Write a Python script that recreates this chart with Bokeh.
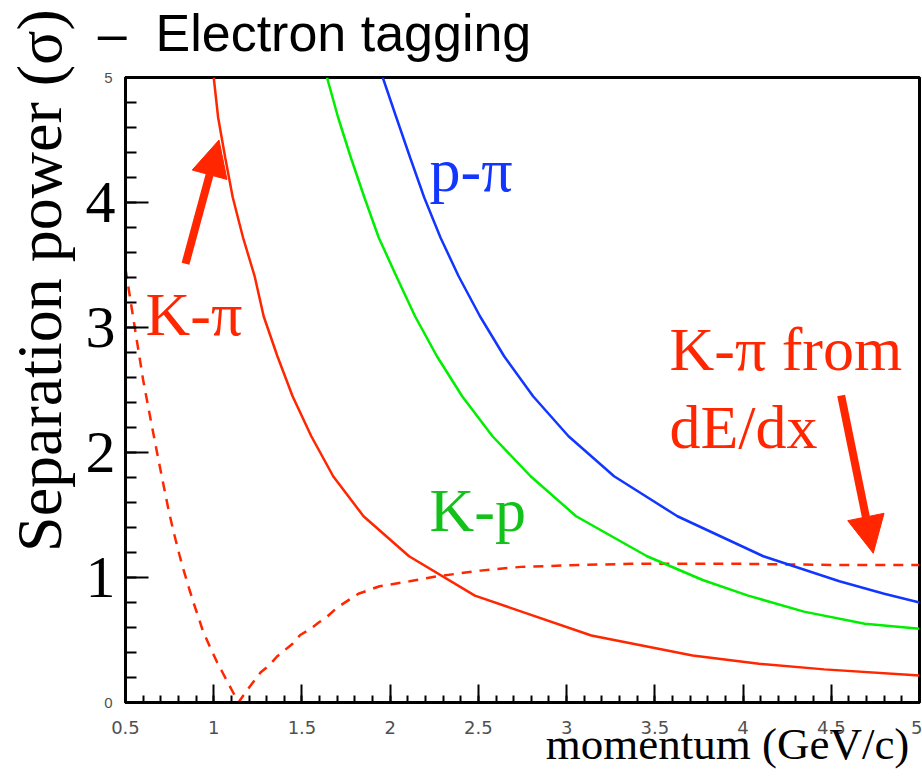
from bokeh.plotting import figure
from bokeh.models import (ColumnDataSource, Range1d, FixedTicker, Label, Arrow, NormalHead,
                          LinearAxis)
from bokeh.embed import file_html
from bokeh.resources import INLINE

# ---------------- data ----------------
# K-pi separation from time of flight (solid red)
kpi_tof_p = [1.00, 1.025, 1.065, 1.108, 1.166, 1.232, 1.283, 1.361, 1.447, 1.553,
             1.677, 1.849, 2.107, 2.48, 3.14, 3.714, 4.09, 4.46, 5.00]
kpi_tof_sep = [5.00, 4.68, 4.36, 4.04, 3.72, 3.41, 3.09, 2.77, 2.45, 2.13,
               1.81, 1.49, 1.17, 0.855, 0.536, 0.376, 0.31, 0.265, 0.216]

# K-p separation (green)
kp_p = [1.642, 1.705, 1.777, 1.854, 1.935, 2.035, 2.141, 2.265, 2.408, 2.58,
        2.796, 3.054, 3.456, 3.771, 4.029, 4.345, 4.69, 5.00]
kp_sep = [5.00, 4.68, 4.36, 4.04, 3.72, 3.41, 3.09, 2.77, 2.45, 2.13,
          1.81, 1.49, 1.17, 0.98, 0.855, 0.727, 0.63, 0.59]

# p-pi separation (blue)
ppi_p = [1.958, 2.035, 2.113, 2.193, 2.285, 2.388, 2.509, 2.646, 2.81, 3.011,
         3.269, 3.628, 4.115, 4.546, 4.80, 5.00]
ppi_sep = [5.00, 4.68, 4.36, 4.04, 3.72, 3.41, 3.09, 2.77, 2.45, 2.13,
           1.81, 1.49, 1.17, 0.97, 0.87, 0.80]

# K-pi separation from dE/dx (dashed red)
kpi_dedx_p = [0.50, 0.557, 0.60, 0.643, 0.687, 0.744, 0.77, 0.806, 0.823, 0.863,
              0.89, 0.914, 0.937, 0.98, 1.02, 1.05, 1.08, 1.11, 1.14, 1.19,
              1.265, 1.316, 1.36, 1.395, 1.447, 1.49, 1.549, 1.595, 1.645, 1.70,
              1.82, 1.94, 2.11, 2.27, 2.51, 2.74, 3.08, 3.37, 3.94, 4.52, 5.00]
kpi_dedx_sep = [3.47, 2.96, 2.58, 2.26, 1.94, 1.54, 1.38, 1.18, 1.09, 0.90,
                0.78, 0.68, 0.58, 0.44, 0.32, 0.24, 0.16, 0.08, 0.00, 0.10,
                0.24, 0.30, 0.37, 0.41, 0.47, 0.54, 0.59, 0.64, 0.69, 0.76,
                0.87, 0.93, 0.97, 1.01, 1.055, 1.085, 1.10, 1.11, 1.11, 1.10, 1.10]

x_major_ticks = [0.5, 1.0, 1.5, 2.0, 2.5, 3.0, 3.5, 4.0, 4.5, 5.0]
x_tick_labels = ["0.5", "1", "1.5", "2", "2.5", "3", "3.5", "4", "4.5", "5"]
y_major_ticks = [0, 1, 2, 3, 4, 5]
y_small_labels = {0: "0", 1: "", 2: "", 3: "", 4: "", 5: "5"}
y_big_ticks = [1, 2, 3, 4]
y_big_labels = ["1", "2", "3", "4"]

TITLE_TEXT = "–\u00a0\u00a0Electron tagging"
XLABEL_TEXT = "momentum (GeV/c)"
YLABEL_TEXT = "Separation power (σ)"

# ---------------- styling ----------------
RED = "#ff2600"
GREEN = "#00ee00"
GREEN_TXT = "#12c21a"
BLUE = "#1236ff"
SERIF = "Liberation Serif"
SANS = "Liberation Sans"

W, H = 922, 783
FL, FT, FR, FB = 125, 77, 919, 702  # frame edges in page pixels
PX_PER_X = (FR - FL) / 4.5
PX_PER_Y = (FB - FT) / 5.0

p = figure(width=W, height=H, output_backend="svg", toolbar_location=None,
           x_range=Range1d(0.5, 5.0), y_range=Range1d(0.0, 5.0),
           min_border_left=FL, min_border_right=W - FR,
           min_border_top=FT, min_border_bottom=H - FB)
p.background_fill_color = "white"
p.border_fill_color = "white"
p.grid.visible = False
p.outline_line_color = "black"
p.outline_line_width = 3

x_minor = [round(0.5 + 0.1 * i, 2) for i in range(46)]
y_minor = [round(0.2 * i, 2) for i in range(26)]
p.xaxis.ticker = FixedTicker(ticks=x_major_ticks, minor_ticks=x_minor)
p.yaxis.ticker = FixedTicker(ticks=y_major_ticks, minor_ticks=y_minor)
p.xaxis.major_label_overrides = {t: l for t, l in zip(x_major_ticks, x_tick_labels)}
p.yaxis.major_label_overrides = y_small_labels

for ax in (p.xaxis[0], p.yaxis[0]):
    ax.axis_line_width = 3
    ax.axis_line_color = "black"
    ax.major_tick_out = 0
    ax.minor_tick_out = 0
    ax.major_tick_line_width = 2
    ax.minor_tick_line_width = 2
p.xaxis.major_tick_in = 18
p.xaxis.minor_tick_in = 7
p.yaxis.major_tick_in = 23
p.yaxis.minor_tick_in = 11

p.xaxis.major_label_text_font = "DejaVu Sans"
p.xaxis.major_label_text_font_size = "18px"
p.xaxis.major_label_text_color = "#505050"
p.xaxis.major_label_standoff = 18
p.yaxis.major_label_text_font = SANS
p.yaxis.major_label_text_font_size = "15px"
p.yaxis.major_label_text_color = "#505050"
p.yaxis.major_label_standoff = 13


def text_axis(ticks, labels, font, size, standoff, orientation="horizontal"):
    """An axis that only carries text labels (no line, no ticks)."""
    ax = LinearAxis(ticker=FixedTicker(ticks=ticks, minor_ticks=[]),
                    major_label_overrides={t: l for t, l in zip(ticks, labels)})
    ax.axis_line_color = None
    ax.major_tick_line_color = None
    ax.minor_tick_line_color = None
    ax.major_tick_in = 0
    ax.major_tick_out = 0
    ax.minor_tick_in = 0
    ax.minor_tick_out = 0
    ax.major_label_text_font = font
    ax.major_label_text_font_size = size
    ax.major_label_text_color = "black"
    ax.major_label_standoff = standoff
    ax.major_label_orientation = orientation
    return ax


# big serif y tick numbers
p.add_layout(text_axis(y_big_ticks, y_big_labels, SERIF, "60px", -14), "left")
# y-axis title (rotated), centred at page y = 280
ylab_pos = round((FB - 280) / PX_PER_Y, 3)
p.add_layout(text_axis([ylab_pos], [YLABEL_TEXT], SERIF, "64px", 8, "vertical"), "left")
# plot title above the frame, centred at page x = 314
title_pos = round(0.5 + (314 - FL) / PX_PER_X, 3)
title_axis = text_axis([title_pos], [TITLE_TEXT], SANS, "52px", 16)
title_axis.major_label_text_line_height = 0.8
p.add_layout(title_axis, "above")
# x-axis title, centred at page x = 727
xlab_pos = round(0.5 + (727 - FL) / PX_PER_X, 3)
p.add_layout(text_axis([xlab_pos], [XLABEL_TEXT], SERIF, "45px", -18), "below")

# ---------------- curves ----------------
src_kpi = ColumnDataSource(dict(x=kpi_tof_p, y=kpi_tof_sep))
src_kp = ColumnDataSource(dict(x=kp_p, y=kp_sep))
src_ppi = ColumnDataSource(dict(x=ppi_p, y=ppi_sep))
src_dedx = ColumnDataSource(dict(x=kpi_dedx_p, y=kpi_dedx_sep))

p.line("x", "y", source=src_dedx, line_color=RED, line_width=2.5, line_dash="10 8")
p.line("x", "y", source=src_kpi, line_color=RED, line_width=2.5)
p.line("x", "y", source=src_kp, line_color=GREEN, line_width=2.5)
p.line("x", "y", source=src_ppi, line_color=BLUE, line_width=2.5)

# ---------------- in-frame annotations ----------------
def lab(X, Y, text, color):
    p.add_layout(Label(x=X - FL, y=FB - Y, x_units="screen", y_units="screen", text=text,
                       text_font=SERIF, text_font_size="62px", text_color=color,
                       text_align="left", text_baseline="alphabetic"))

lab(429, 169, "p-π", BLUE)
lab(429, 509, "K-p", GREEN_TXT)
lab(145, 313, "K-π", RED)
lab(669, 348, "K-π from", RED)
lab(669, 426, "dE/dx", RED)

p.add_layout(Arrow(end=NormalHead(size=36, fill_color=RED, line_color=RED),
                   x_start=0.84, y_start=3.51, x_end=1.03, y_end=4.50,
                   line_color=RED, line_width=8))
p.add_layout(Arrow(end=NormalHead(size=37, fill_color=RED, line_color=RED),
                   x_start=4.556, y_start=2.456, x_end=4.738, y_end=1.194,
                   line_color=RED, line_width=8))

open("out.html", "w").write(file_html(p, INLINE))
